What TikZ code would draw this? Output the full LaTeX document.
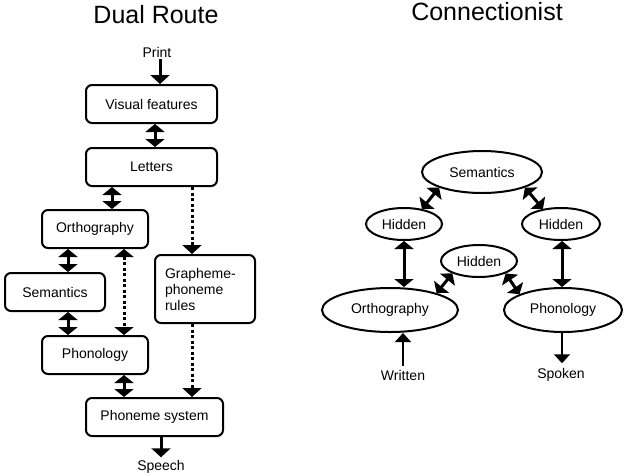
\documentclass[tikz,border=0pt]{standalone}
\usepackage{fontspec}
\setmainfont{Liberation Sans}
\usetikzlibrary{arrows.meta,shapes.geometric}
\tikzset{
  lbl/.style={font=\fontsize{14}{16}\selectfont, inner sep=1pt},
  ttl/.style={font=\fontsize{25}{28}\selectfont, inner sep=0pt},
  rbox/.style={draw, line width=2pt, rounded corners=6pt, font=\fontsize{14}{16}\selectfont, inner sep=2pt},
  ell/.style={draw, ellipse, line width=2pt, inner sep=0pt, font=\fontsize{14}{16}\selectfont},
  one/.style={-{Triangle[width=19pt,length=9pt]}, line width=3pt},
  dbl/.style={{Triangle[width=19pt,length=8pt]}-{Triangle[width=19pt,length=8pt]}, line width=3pt},
  dotone/.style={-{Triangle[width=19pt,length=9pt]}, line width=3pt, dash pattern=on 3pt off 2.5pt},
  dotdbl/.style={{Triangle[width=19pt,length=8pt]}-{Triangle[width=19pt,length=8pt]}, line width=3pt, dash pattern=on 3pt off 2.5pt},
  thin/.style={-{Triangle[width=16pt,length=9pt]}, line width=1.7pt}
}
\begin{document}
\begin{tikzpicture}[x=1pt,y=-1pt]
\useasboundingbox (0,0) rectangle (625,475);
% titles
\node[ttl] (t1) at (156,15) {Dual Route};
\node[ttl] (t2) at (487,12) {Connectionist};
% dual route
\node[lbl] (print) at (157,52) {Print};
\node[rbox, minimum width=131pt, minimum height=38pt] (vis) at (151.5,104) {Visual features};
\node[rbox, minimum width=131pt, minimum height=38pt] (let) at (151.5,167) {Letters};
\node[rbox, minimum width=106pt, minimum height=38pt] (orth) at (95,229) {Orthography};
\node[rbox, minimum width=100pt, minimum height=68pt, align=left, text width=80pt] (gp) at (205,289) {Grapheme-\\phoneme\\rules};
\node[rbox, minimum width=100pt, minimum height=38pt] (sem) at (55,292) {Semantics};
\node[rbox, minimum width=106pt, minimum height=38pt] (phon) at (95,355) {Phonology};
\node[rbox, minimum width=137pt, minimum height=38pt] (phs) at (154.5,417) {Phoneme system};
\node[lbl] (speech) at (161,467) {Speech};

\draw[one] ([xshift=3pt,yshift=-1pt]print.south) -- ([xshift=3pt]print.south |- vis.north);
\draw[dbl] ([xshift=3.5pt]vis.south) -- ([xshift=3.5pt]let.north);
\draw[dbl] ([xshift=-39.5pt]let.south) -- ([xshift=-39.5pt]let.south |- orth.north);
\draw[dotone] ([xshift=40.5pt]let.south) -- ([xshift=40.5pt]let.south |- gp.north);
\draw[dbl] ([xshift=-27pt]orth.south) -- ([xshift=-27pt]orth.south |- sem.north);
\draw[dotdbl] ([xshift=29pt]orth.south) -- ([xshift=29pt]orth.south |- phon.north);
\draw[dbl] ([xshift=13pt]sem.south) -- ([xshift=13pt]sem.south |- phon.north);
\draw[dbl] ([xshift=29pt]phon.south) -- ([xshift=29pt]phon.south |- phs.north);
\draw[dotone] ([xshift=-13pt]gp.south) -- ([xshift=-13pt]gp.south |- phs.north);
\draw[one] ([xshift=6.5pt]phs.south) -- ([xshift=6.5pt,yshift=2pt]phs.south |- speech.north);

% connectionist
\node[ell, minimum width=120pt, minimum height=42pt] (csem) at (482,172) {Semantics};
\node[ell, minimum width=76pt, minimum height=32pt] (hl) at (404,224) {Hidden};
\node[ell, minimum width=78pt, minimum height=32pt] (hr) at (561,224) {Hidden};
\node[ell, minimum width=76pt, minimum height=32pt] (hm) at (479,261) {Hidden};
\node[ell, minimum width=136pt, minimum height=44pt] (corth) at (390,310) {Orthography};
\node[ell, minimum width=118pt, minimum height=44pt] (cphon) at (563,310) {Phonology};
\node[lbl] (written) at (403,375) {Written};
\node[lbl] (spoken) at (561,375) {Spoken};

\draw[dbl] (csem.200) -- (hl.40);
\draw[dbl] (csem.340) -- (hr.140);
\draw[dbl] (hm.205) -- (corth.20);
\draw[dbl] (hm.335) -- (cphon.160);
\draw[dbl] (hl.south) -- (hl.south |- corth.north);
\draw[dbl] ([xshift=1pt]hr.south) -- ([xshift=1pt]hr.south |- cphon.north);
\draw[thin] ([yshift=3pt]written.north) -- (written.north |- corth.south);
\draw[thin] ([xshift=-1pt]cphon.south) -- ([xshift=-1pt,yshift=4pt]cphon.south |- spoken.north);
\end{tikzpicture}
\end{document}
